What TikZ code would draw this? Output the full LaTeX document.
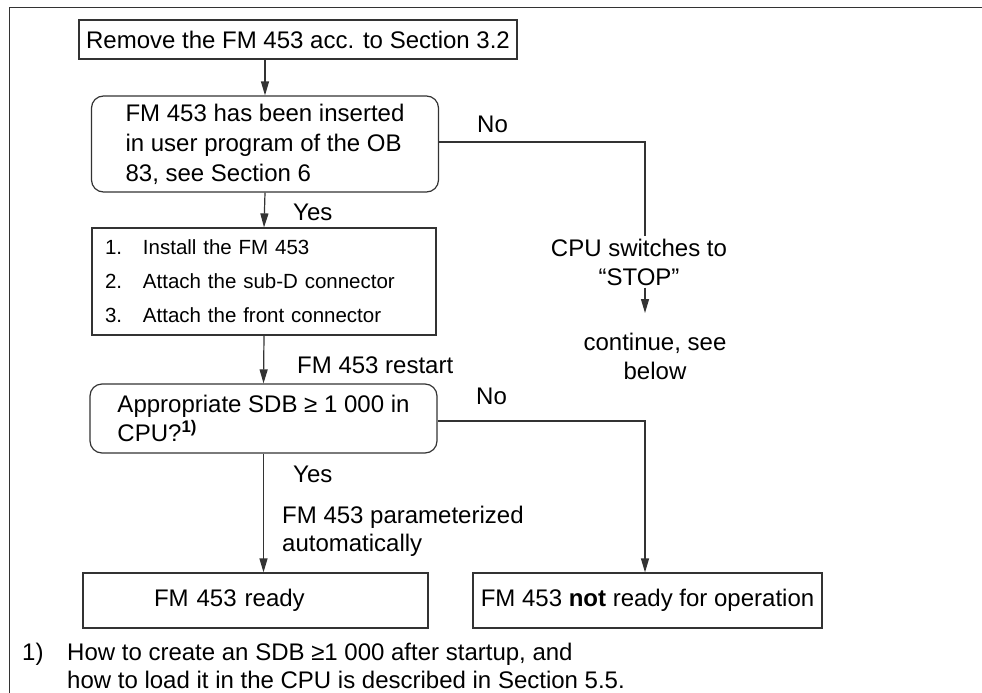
\documentclass[tikz,border=0pt]{standalone}
\usepackage{fontspec}
\setmainfont{Liberation Sans}
\usetikzlibrary{arrows.meta}
\definecolor{ln}{HTML}{333333}
\begin{document}
\begin{tikzpicture}[x=1pt,y=-1pt,
  every node/.style={font=\fontsize{24}{29}\selectfont, text=black},
  box/.style={draw=ln, line width=1.2pt, inner sep=2pt},
  rbox/.style={box, rounded corners=12pt},
  conn/.style={draw=ln, line width=1.2pt},
  arr/.style={conn, -{Triangle[length=14pt,width=8pt]}},
  lbl/.style={inner sep=0pt, anchor=west}]
\useasboundingbox (0,0) rectangle (982,693);
% frame
\draw[ln, line width=1.5pt] (982,7.5) -- (9.5,7.5) -- (9.5,693);

\node[box, minimum width=438, minimum height=39] (b1) at (298,39.5) {Remove the FM 453 acc. to Section 3.2};
\node[rbox, minimum width=347, minimum height=96, align=left, font=\fontsize{24}{30}\selectfont] (b2) at (265,144)
  {FM 453 has been inserted\\in user program of the OB\\83, see Section 6};
\node[box, text width=318, inner xsep=13, minimum height=107, align=left, font=\fontsize{20.5}{34}\selectfont] (b3) at (264,281.5)
  {\makebox[38pt][l]{1.}Install the FM 453\\\makebox[38pt][l]{2.}Attach the sub-D connector\\\makebox[38pt][l]{3.}Attach the front connector};
\node[rbox, minimum width=347, minimum height=69, align=left] (b4) at (263.5,418.5)
  {Appropriate SDB ≥ 1 000 in\\CPU?\textsuperscript{\bfseries 1)}};
\node[box, text width=203, inner xsep=71, minimum height=55, align=left] (b5) at (255.5,600.5) {FM 453 ready};
\node[box, minimum width=349, minimum height=55] (b6) at (647.5,600.5) {FM 453 \textbf{not} ready for operation};

\node[align=center, inner sep=2pt] (stop) at (639,262) {CPU switches to\\“STOP”};
\node[align=center, inner sep=2pt] (cont) at (655,356.5) {continue, see\\below};
\coordinate (c1) at (645,142);
\coordinate (c2) at (645,421);
\coordinate (s1) at (645,313);

% connectors
\draw[arr] (b2.north |- b1.south) -- (b2.north);
\draw[arr] (b2.south) -- (b3.north);
\draw[arr] (b3.south) -- (b4.north);
\draw[arr] (b4.south) -- (b4.south |- b5.north);
\draw[conn] (b2.east |- c1) -- (c1) -- (c1 |- stop.north);
\draw[arr] (c1 |- stop.south) -- (s1);
\draw[arr] (b4.east |- c2) -- (c2) -- (c2 |- b6.north);

% labels
\node[lbl] (no1) at (477,124) {No};
\node[lbl] (yes1) at (293,212) {Yes};
\node[lbl] (rst) at (297,365) {FM 453 restart};
\node[lbl] (no2) at (476,396) {No};
\node[lbl] (yes2) at (293,474) {Yes};
\node[lbl, align=left, font=\fontsize{24}{28}\selectfont] (par) at (282,531) {FM 453 parameterized\\automatically};

% footnote
\node[lbl, align=left, font=\fontsize{24}{28}\selectfont] (fn) at (22,666) {\makebox[45pt][l]{1)}How to create an SDB ≥1 000 after startup, and\\\hspace*{45pt}how to load it in the CPU is described in Section 5.5.};
\end{tikzpicture}
\end{document}
